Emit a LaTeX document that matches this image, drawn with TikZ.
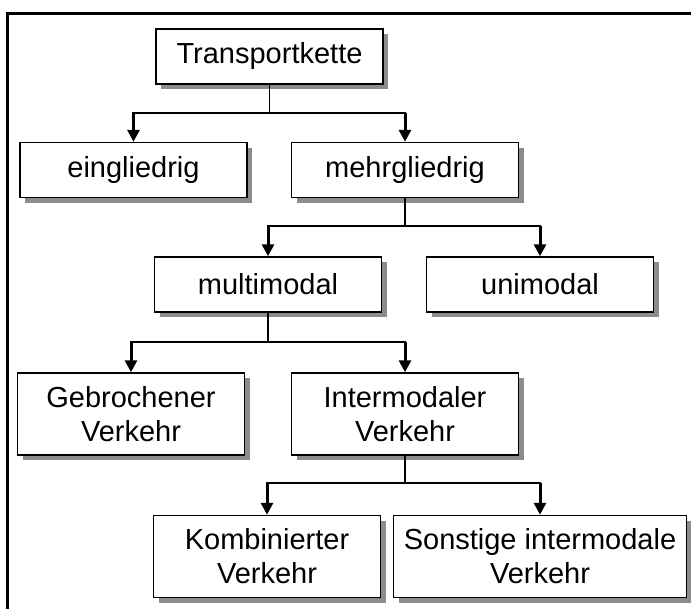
\documentclass[tikz,border=0pt]{standalone}
\usepackage{fontspec}
\setmainfont{Liberation Sans}
\usetikzlibrary{shadows,arrows.meta}

\begin{document}
\begin{tikzpicture}[x=1pt,y=-1pt,
  box/.style={draw,fill=white,line width=1.5pt,align=center,inner sep=0,
    minimum width=227pt,minimum height=55pt,font=\fontsize{29}{34}\selectfont,
    drop shadow={shadow xshift=5pt,shadow yshift=-5pt,fill=black!45,opacity=1}},
  tall/.style={minimum height=82pt},
  stem/.style={line width=1.5pt},
  bar/.style={line width=2.2pt,line cap=rect},
  tip/.style={line width=3pt,-{Triangle[length=12pt,width=12pt]}}]
\useasboundingbox(0,0)rectangle(691,608);
\draw[line width=3pt](7,612)--(7,13)--(695,13);
\coordinate(J1)at(269,113);
\coordinate(J2)at(405,226);
\coordinate(J3)at(268,342);
\coordinate(J4)at(405,483);
\begin{scope}[every node/.style={box}]
\node(TK)at(269.5,56.5){Transportkette};
\node(E)at(133.5,170){eingliedrig};
\node(M)at(405,170){mehrgliedrig};
\node(MM)at(268,284.5){multimodal};
\node(UM)at(540,284.5){unimodal};
\node[tall](GV)at(131,414){Gebrochener\\Verkehr};
\node[tall](IV)at(405,414){Intermodaler\\Verkehr};
\node[tall](KV)at(267,556.5){Kombinierter\\Verkehr};
\node[tall,minimum width=293pt](SV)at(540,556.5){Sonstige intermodale\\Verkehr};
\end{scope}
\draw[stem](TK.south)--(TK.south|-J1);
\draw[bar](E.north|-J1)--(M.north|-J1);
\draw[tip](E.north|-J1)--(E.north);
\draw[tip](M.north|-J1)--(M.north);
\draw[stem](M.south)--(M.south|-J2);
\draw[bar](MM.north|-J2)--(UM.north|-J2);
\draw[tip](MM.north|-J2)--(MM.north);
\draw[tip](UM.north|-J2)--(UM.north);
\draw[stem](MM.south)--(MM.south|-J3);
\draw[bar](GV.north|-J3)--(IV.north|-J3);
\draw[tip](GV.north|-J3)--(GV.north);
\draw[tip](IV.north|-J3)--(IV.north);
\draw[stem](IV.south)--(IV.south|-J4);
\draw[bar](KV.north|-J4)--(SV.north|-J4);
\draw[tip](KV.north|-J4)--(KV.north);
\draw[tip](SV.north|-J4)--(SV.north);
\end{tikzpicture}
\end{document}
